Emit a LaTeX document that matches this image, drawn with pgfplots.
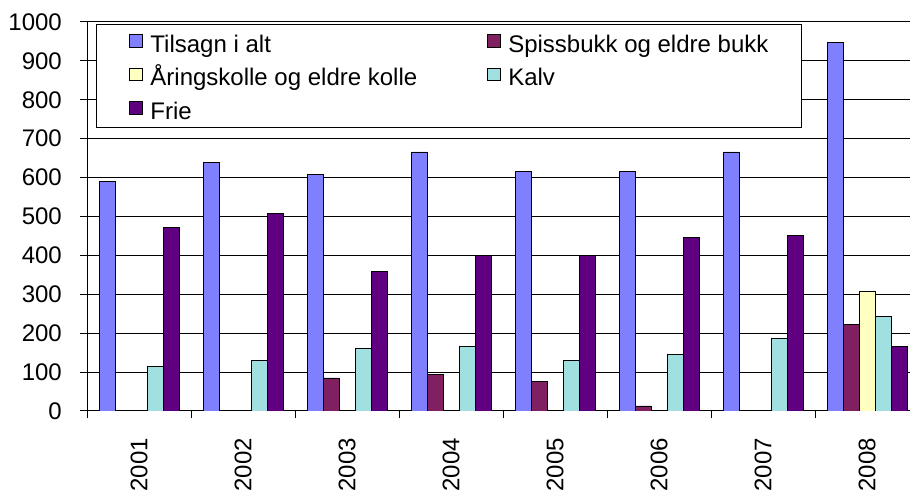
\documentclass[border=0pt]{standalone}
\usepackage{pgfplots}
\pgfplotsset{compat=1.18}
\usepackage{fontspec}
\setmainfont{Liberation Sans}
\definecolor{tilsagn}{HTML}{8080FF}
\definecolor{bukk}{HTML}{802060}
\definecolor{kolle}{HTML}{FFFFC0}
\definecolor{kalv}{HTML}{A0E0E0}
\definecolor{frie}{HTML}{600080}
\begin{document}
\begin{tikzpicture}
\useasboundingbox (0,0) rectangle (910pt,495pt);
\begin{axis}[
    at={(87pt,84pt)}, anchor=south west,
    scale only axis, width=823pt, height=389pt,
    ybar,
    xmin=-0.5, xmax=7.413,
    ymin=0, ymax=1000,
    ytick distance=100,
    axis x line=bottom, axis y line=left,
    axis line style={-, line width=1pt},
    ymajorgrids,
    grid style={black, line width=1pt},
    tick align=outside,
    major tick length=7pt,
    tick style={black, line width=1pt},
    /pgf/number format/assume math mode=true,
    /pgf/number format/1000 sep={},
    tick label style={font=\fontsize{24}{28}\selectfont},
    yticklabel style={inner sep=0pt, anchor=east},
    yticklabel shift=18pt,
    xtick={-0.5,0.5,...,6.5},
    xticklabels={,,,,,,,},
    extra x ticks={0,1,...,7},
    extra x tick labels={2001,2002,2003,2004,2005,2006,2007,2008},
    extra x tick style={major tick length=0pt,
        xticklabel style={rotate=90, anchor=east, inner sep=0pt, xshift=3pt}},
    xticklabel shift=30pt,
    legend columns=2,
    legend style={at={(0.0109,0.9949)}, anchor=north west,
        draw=black, line width=1pt,
        inner xsep=33pt, inner ysep=8pt,
        font=\fontsize{24}{28}\selectfont,
        nodes={inner sep=0pt, text height=20pt, text depth=0pt, anchor=base west},
        /tikz/every odd column/.append style={column sep=7pt},
        /tikz/every even column/.append style={column sep=70pt},
        row sep=13.5pt},
    bl/.style={draw=black, line width=0.8pt, bar width=0.1538,
        legend image code/.code={\draw[##1, line width=1pt] (0pt,5pt) rectangle (13pt,17.5pt);}},
]
\addplot[bl, fill=tilsagn, bar shift=-0.3077] coordinates {
    (0,590) (1,640) (2,609) (3,666) (4,615) (5,615) (6,666) (7,948)};
\addplot[bl, fill=bukk, bar shift=-0.1538] coordinates {
    (2,85) (3,95) (4,75) (5,13) (7,222)};
\addplot[bl, fill=kolle, bar shift=0] coordinates {
    (7,307)};
\addplot[bl, fill=kalv, bar shift=0.1538] coordinates {
    (0,115) (1,131) (2,162) (3,167) (4,131) (5,146) (6,186) (7,243)};
\addplot[bl, fill=frie, bar shift=0.3077] coordinates {
    (0,472) (1,508) (2,359) (3,400) (4,400) (5,447) (6,452) (7,166)};
\legend{Tilsagn i alt, Spissbukk og eldre bukk, Åringskolle og eldre kolle, Kalv, Frie}
\end{axis}
\end{tikzpicture}
\end{document}
